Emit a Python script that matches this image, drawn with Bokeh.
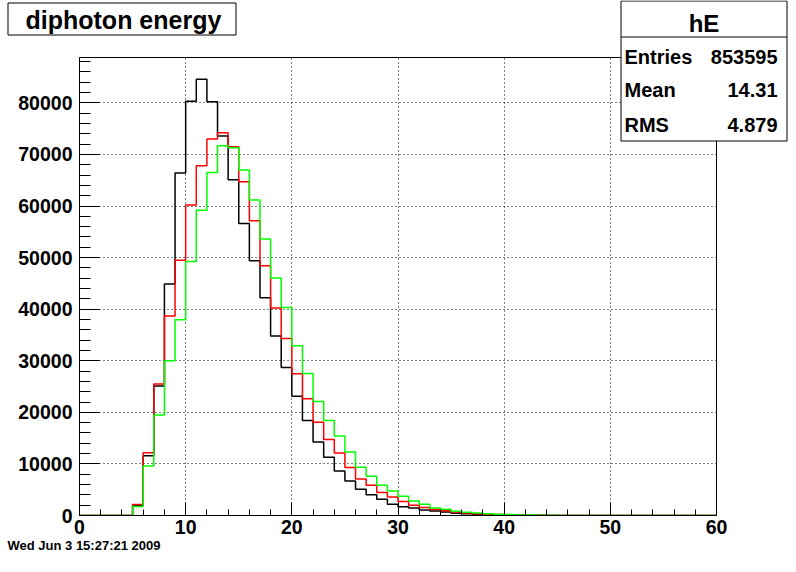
from bokeh.plotting import figure
from bokeh.models import Range1d, SingleIntervalTicker, BasicTickFormatter
from bokeh.layouts import column
from bokeh.core.properties import value
from bokeh.embed import file_html
from bokeh.resources import INLINE

# ---------------- data ----------------
bin_edges = list(range(61))          # 60 bins of width 1, 0..60

black_counts = [0, 0, 0, 0, 0, 1950, 11600, 25100, 44900, 66400,
                80300, 84600, 80200, 73600, 65100, 56600, 49400, 42200, 34800, 28700,
                23100, 18400, 14250, 11300, 8620, 6700, 5100, 4000, 3150, 2200,
                1720, 1450, 1050, 850, 680, 450, 330, 260, 190, 140,
                100, 70, 50, 30, 20, 10, 0, 0, 0, 0,
                0, 0, 0, 0, 0, 0, 0, 0, 0, 0]

red_counts = [0, 0, 0, 0, 0, 2150, 12150, 25500, 38700, 49500,
              60200, 67800, 73000, 74200, 71500, 64700, 57150, 48400, 40250, 34300,
              27500, 22650, 18070, 14750, 12100, 9300, 7060, 5870, 4450, 3580,
              2710, 2000, 1550, 1150, 900, 680, 470, 330, 250, 180,
              120, 80, 60, 40, 25, 15, 0, 0, 0, 0,
              0, 0, 0, 0, 0, 0, 0, 0, 0, 0]

green_counts = [0, 0, 0, 0, 0, 1750, 9600, 19500, 29980, 37950,
                49250, 59200, 66500, 71700, 71300, 67000, 61180, 53620, 46070, 40310,
                32890, 27520, 22090, 18410, 15390, 12320, 9360, 7610, 5870, 4750,
                3740, 2810, 2200, 1450, 1220, 800, 650, 480, 350, 250,
                180, 120, 80, 50, 30, 20, 0, 0, 0, 0,
                0, 0, 0, 0, 0, 0, 0, 0, 0, 0]

title_text = "diphoton energy"
stats_name = "hE"
stats_labels = ["Entries", "Mean", "RMS"]
stats_values = ["853595", "14.31", "4.879"]
date_text = "Wed Jun  3 15:27:21 2009"

FONT = "Liberation Sans"
W, H = 788, 556

# ---------------- main histogram figure ----------------
p = figure(width=W, height=H, output_backend="svg", toolbar_location=None,
           x_range=Range1d(0, 60), y_range=Range1d(0, 88800), title=None,
           min_border_left=79, min_border_right=72, min_border_top=57,
           min_border_bottom=41)
p.frame_align = False
p.background_fill_color = "white"
p.border_fill_color = "white"
p.outline_line_color = "black"
p.outline_line_width = 1

for ax in (p.xaxis[0], p.yaxis[0]):
    ax.axis_line_color = "black"
    ax.axis_line_width = 1
    ax.major_tick_line_color = "black"
    ax.minor_tick_line_color = "black"
    ax.major_tick_out = 0
    ax.minor_tick_out = 0
    ax.major_label_text_font = FONT
    ax.major_label_text_font_style = "bold"
    ax.major_label_text_font_size = "19.5px"
    ax.major_label_text_color = "black"

p.xaxis.ticker = SingleIntervalTicker(interval=10, num_minor_ticks=5)
p.xaxis.major_tick_in = 13
p.xaxis.minor_tick_in = 6
p.xaxis.major_label_standoff = 4

p.yaxis.ticker = SingleIntervalTicker(interval=10000, num_minor_ticks=5)
p.yaxis.formatter = BasicTickFormatter(use_scientific=False)
p.yaxis.major_tick_in = 20
p.yaxis.minor_tick_in = 11
p.yaxis.major_label_standoff = 7

for g in (p.xgrid[0], p.ygrid[0]):
    g.grid_line_color = "black"
    g.grid_line_width = 1
    g.grid_line_dash = "1 3"

for counts, color in ((black_counts, "black"), (red_counts, "#ff0000"),
                      (green_counts, "#00ff00")):
    p.step(x=bin_edges, y=counts + [0], mode="after", line_color=color,
           line_width=1.5)

# ---------------- overlay canvas for title / stats / date ----------------
o = figure(width=W, height=H, output_backend="svg", toolbar_location=None,
           x_range=Range1d(0, W), y_range=Range1d(H, 0), title=None,
           x_axis_type=None, y_axis_type=None,
           min_border=0, min_border_left=0, min_border_right=0,
           min_border_top=0, min_border_bottom=0)
o.frame_align = False
o.grid.visible = False
o.outline_line_color = None
o.background_fill_alpha = 0
o.border_fill_alpha = 0
o.margin = (-H, 0, 0, 0)

# boxes
o.quad(left=[7.5, 620.5], right=[235.5, 786.5], top=[2.5, 0.5],
       bottom=[34.5, 140.5], fill_color="white", line_color="black",
       line_width=1)
o.segment(x0=[620.5], y0=[36.5], x1=[786.5], y1=[36.5], line_color="black",
          line_width=1)


def txt(xs, ys, texts, size, align):
    o.text(x=xs, y=ys, text=texts, text_font=value(FONT),
           text_font_style="bold", text_font_size=size, text_align=align,
           text_baseline="middle", text_color="black")


txt([25], [19.5], [title_text], "25px", "left")
txt([703.5], [23], [stats_name], "24px", "center")
row_mid = [56, 89.5, 124.5]
txt([624] * 3, row_mid, stats_labels, "20px", "left")
txt([777] * 3, row_mid, stats_values, "20px", "right")
txt([7], [545], [date_text], "13px", "left")

layout = column(p, o, spacing=0)
open("out.html", "w").write(file_html(layout, INLINE))
